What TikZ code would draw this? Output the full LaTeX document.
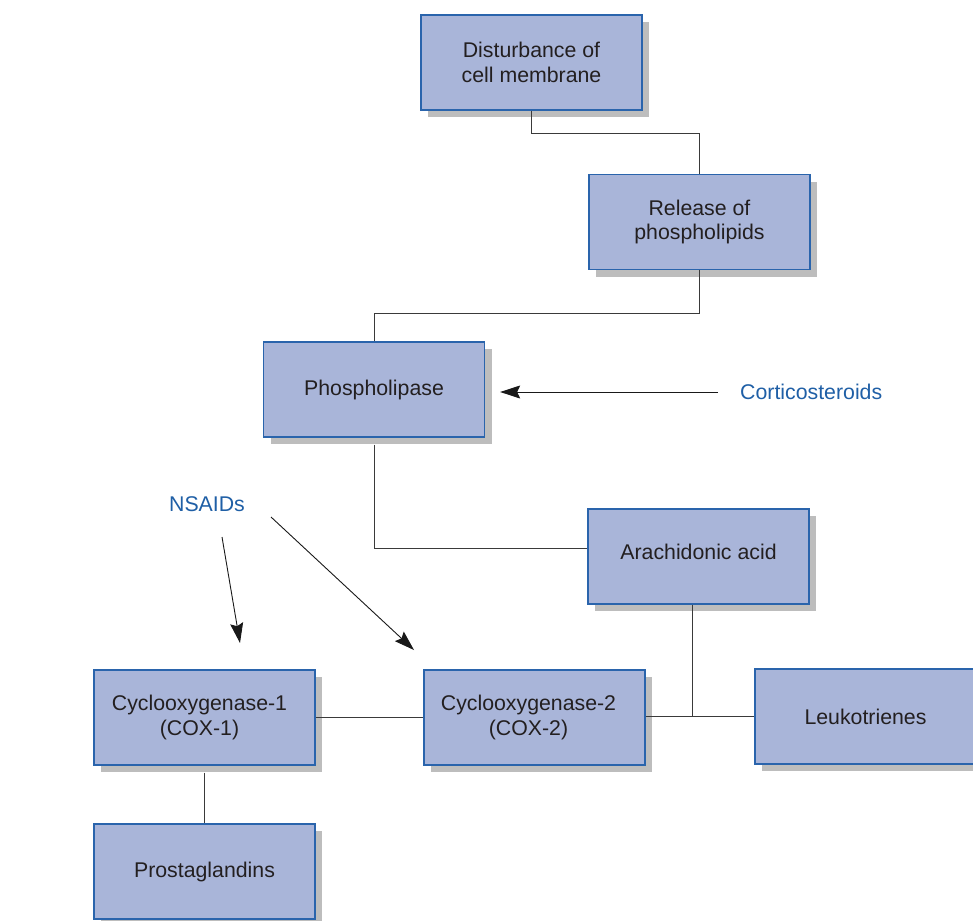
\documentclass[tikz,border=0pt]{standalone}
\usepackage{fontspec}
\setmainfont{Liberation Sans}
\usetikzlibrary{arrows.meta,shadows,calc}
\definecolor{boxfill}{HTML}{A9B5D9}
\definecolor{boxline}{HTML}{2A64AC}
\definecolor{shadowgray}{HTML}{BDBDBD}
\definecolor{txt}{HTML}{231F20}
\definecolor{bluetxt}{HTML}{1F5FA6}
\definecolor{conn}{HTML}{3A3A3A}
\begin{document}
\begin{tikzpicture}[x=1pt,y=-1pt,
  flowbox/.style={draw=boxline, line width=1.3pt, fill=boxfill,
    minimum width=221pt, minimum height=95pt, inner sep=0pt, align=center,
    text=txt, font=\fontsize{21.3}{24.5}\selectfont,
    drop shadow={shadow xshift=7pt, shadow yshift=-7pt, fill=shadowgray, opacity=1}},
  conline/.style={draw=conn, line width=0.9pt},
  arr/.style={draw=black!90, line width=0.9pt, -{Stealth[length=20pt,width=13pt,inset=3pt]}},
  druglabel/.style={text=bluetxt, font=\fontsize{21.3}{24.5}\selectfont, inner sep=0pt}]
\clip (0,0) rectangle (973,920);
\useasboundingbox (0,0) rectangle (973,920);
\fill[white] (0,0) rectangle (973,920);

\node[flowbox] (dist) at (531.5,62.5) {Disturbance of\\cell membrane};
\node[flowbox] (rel) at (699.5,222) {Release of\\phospholipids};
\node[flowbox] (phos) at (374,389.5) {\raisebox{-4pt}{Phospholipase}};
\node[flowbox] (arach) at (698.5,556.5) {\raisebox{9pt}{Arachidonic acid}};
\node[flowbox] (cox1) at (204.5,717.5) {\hspace*{-10pt}Cyclooxygenase-1\\\hspace*{-10pt}(COX-1)};
\node[flowbox] (cox2) at (534.5,717.5) {\hspace*{-12pt}Cyclooxygenase-2\\\hspace*{-12pt}(COX-2)};
\node[flowbox] (leuk) at (865.5,716.5) {Leukotrienes};
\node[flowbox] (prost) at (204.5,871.5) {\raisebox{-4pt}{Prostaglandins}};

\node[druglabel, anchor=west] (cort) at (740,392) {Corticosteroids};
\node[druglabel] (nsaid) at (207,504) {NSAIDs};

\coordinate (b1) at (699.5,133);
\coordinate (b2) at (374,313);
\coordinate (j) at (692,716);
\coordinate (s1) at (222,537);
\coordinate (t1) at (240,643);
\coordinate (s2) at (271,517);
\coordinate (t2) at (414,650);

\draw[conline] (dist.south) |- (b1) -- (rel.north);
\draw[conline] (rel.south) |- (b2) -- (phos.north);
\draw[conline] ([yshift=-7pt]phos.south) |- ([yshift=8.5pt]arach.west);
\draw[conline] ([xshift=-6.5pt]arach.south) -- (j);
\draw[conline] (cox2.east |- j) -- (leuk.west |- j);
\draw[conline] (cox1.east) -- (cox2.west);
\draw[conline] ([yshift=-7pt]cox1.south) -- (prost.north);

\draw[arr] ([xshift=-22pt]cort.west) -- ([xshift=15pt]phos.east |- cort.west);
\draw[arr] (s1) -- (t1);
\draw[arr] (s2) -- (t2);
\end{tikzpicture}
\end{document}
